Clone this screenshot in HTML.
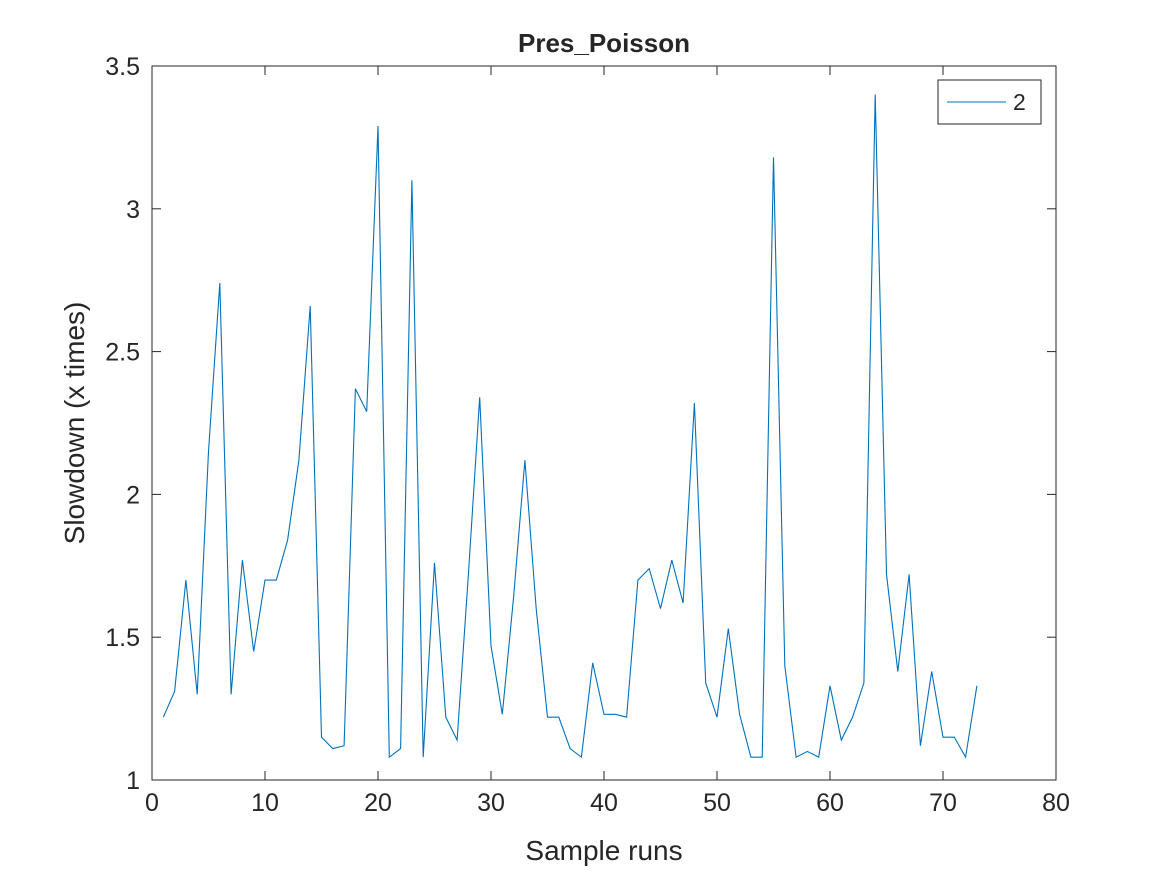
<!DOCTYPE html>
<html><head><meta charset="utf-8"><style>
html,body{margin:0;padding:0;background:#fff;}
svg text{font-family:"Liberation Sans",sans-serif;fill:#262626;}
</style></head><body>
<svg width="1167" height="875" viewBox="0 0 1167 875" xmlns="http://www.w3.org/2000/svg">
<g id="axes"></g>
<g id="series"></g>
<text x="604" y="52" font-size="26" font-weight="bold" text-anchor="middle">Pres_Poisson</text>
<text x="604" y="860" font-size="28" text-anchor="middle">Sample runs</text>
<text transform="translate(84,423) rotate(-90)" font-size="28" text-anchor="middle">Slowdown (x times)</text>
<g>
<rect x="938" y="80" width="103" height="44" fill="#fff" stroke="#262626" stroke-width="1"/>
<line x1="947" y1="102" x2="1006" y2="102" stroke="#0072BD" stroke-width="1"/>
<text x="1013" y="110" font-size="23">2</text>
</g>
</svg>
<script>
const xTicks=[0,10,20,30,40,50,60,70,80];
const yTicks=[1,1.5,2,2.5,3,3.5];
const yTickLabels=["1","1.5","2","2.5","3","3.5"];
const values=[1.22,1.31,1.70,1.30,2.15,2.74,1.30,1.77,1.45,1.70,1.70,1.84,2.12,2.66,1.15,1.11,1.12,2.37,2.29,3.29,1.08,1.11,3.10,1.08,1.76,1.22,1.14,1.72,2.34,1.47,1.23,1.64,2.12,1.60,1.22,1.22,1.11,1.08,1.41,1.23,1.23,1.22,1.70,1.74,1.60,1.77,1.62,2.32,1.34,1.22,1.53,1.23,1.08,1.08,3.18,1.40,1.08,1.10,1.08,1.33,1.14,1.22,1.34,3.40,1.72,1.38,1.72,1.12,1.38,1.15,1.15,1.08,1.33];
const L=152,R=1056,T=66,B=780;
const xs=v=>L+(v-0)/(80-0)*(R-L);
const ys=v=>B-(v-1)/(3.5-1)*(B-T);
const NS="http://www.w3.org/2000/svg";
const ax=document.getElementById('axes');
function mk(tag,attrs,parent){const e=document.createElementNS(NS,tag);for(const k in attrs)e.setAttribute(k,attrs[k]);parent.appendChild(e);return e;}
const box=mk('rect',{x:L,y:T,width:R-L,height:B-T,fill:'none',stroke:'#262626','stroke-width':1},ax);


xTicks.forEach(t=>{
 const x=xs(t);
 const l1=mk('line',{x1:x,y1:B,x2:x,y2:B-9,stroke:'#262626'},ax);
 
 
 const l2=mk('line',{x1:x,y1:T,x2:x,y2:T+9,stroke:'#262626'},ax);
 
 
 const tx=mk('text',{x:x,y:B+31,'font-size':25,'text-anchor':'middle'},ax);
 tx.textContent=String(t);
 
 
});
yTicks.forEach((t,i)=>{
 const y=ys(t);
 const l1=mk('line',{x1:L,y1:y,x2:L+9,y2:y,stroke:'#262626'},ax);
 
 
 const l2=mk('line',{x1:R,y1:y,x2:R-9,y2:y,stroke:'#262626'},ax);
 
 
 const tx=mk('text',{x:L-12,y:y+9,'font-size':25,'text-anchor':'end'},ax);
 tx.textContent=yTickLabels[i];
 
 
});
const pts=values.map((v,i)=>xs(i+1).toFixed(2)+','+ys(v).toFixed(2)).join(' ');
const pl=mk('polyline',{points:pts,fill:'none',stroke:'#0072BD','stroke-width':1.1},document.getElementById('series'));


</script>
</body></html>
